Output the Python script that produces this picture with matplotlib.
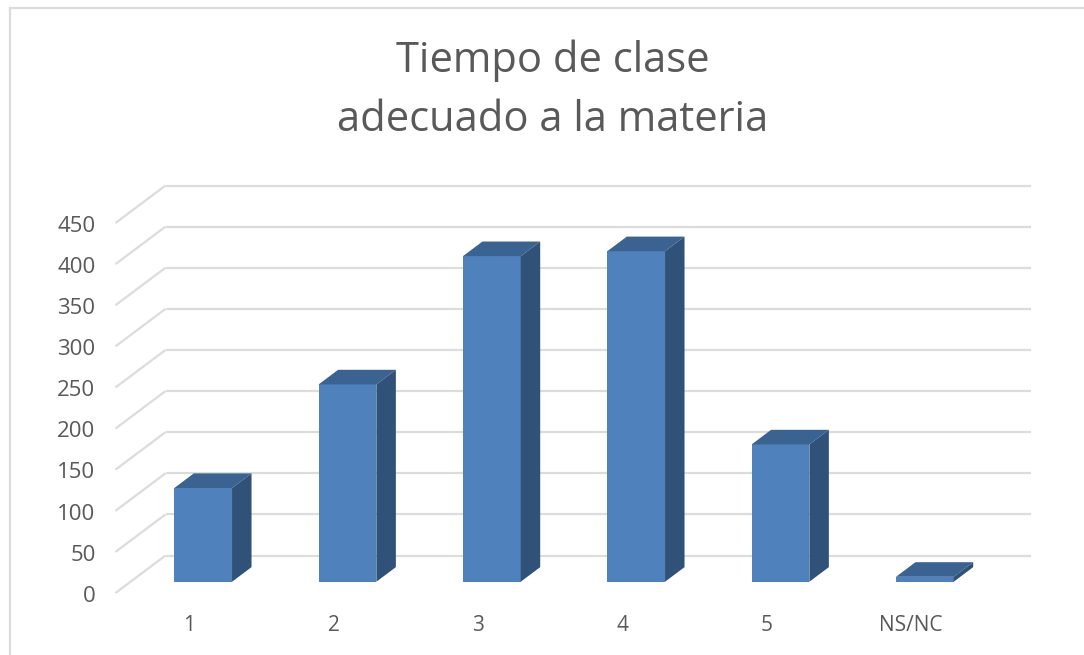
import matplotlib
matplotlib.use("Agg")
import matplotlib.pyplot as plt
from matplotlib.patches import Polygon

plt.rcParams["font.family"] = ["Open Sans", "DejaVu Sans"]

# Values
categories = ["1", "2", "3", "4", "5", "NS/NC"]
values = [114, 240, 396, 402, 167, 6]
y_ticks = [0, 50, 100, 150, 200, 250, 300, 350, 400, 450]
title = "Tiempo de clase\nadecuado a la materia"

W, H = 1084, 655
GRID = "#dcdcdc"
TEXT = "#595959"
FRONT = "#4f81bd"
TOP = "#3b6391"
SIDE = "#305279"

fig = plt.figure(figsize=(W / 100, H / 100), dpi=100)

# Axes covers the front plane of the fake 3D box
ax = fig.add_axes([115.5 / W, (H - 593) / H, 866 / W, 370 / H])
ax.set_xlim(-0.5, 5.5)
ax.set_ylim(0, 450)
ax.axis("off")

# Depth of the box in data units
depth_x = 50 / (866 / 6)
depth_y = 37.5 * 450 / 370
bar_width = 0.40
bar_depth = 0.39

# Walls: diagonal on the left, horizontal on the back
for t in y_ticks:
    ax.plot([-0.5, -0.5 + depth_x], [t, t + depth_y], color=GRID, lw=1.6,
            clip_on=False, solid_capstyle="butt", zorder=1)
    ax.plot([-0.5 + depth_x, 5.5 + depth_x], [t + depth_y, t + depth_y], color=GRID, lw=1.6,
            clip_on=False, solid_capstyle="butt", zorder=1)
    ax.text(-0.5 - 20 / (866 / 6), t - 4, str(t), ha="right", va="center",
            fontsize=16, color=TEXT)

# Bars: front face with the library, top and side as sheared polygons
for i, v in enumerate(values):
    left = i - bar_width / 2 + 0.31 * depth_x
    right = left + bar_width
    base = 0.30 * depth_y
    ddx = bar_depth * depth_x
    ddy = bar_depth * depth_y
    ax.bar(left, v, width=bar_width, bottom=base, align="edge", color=FRONT,
           clip_on=False, zorder=3)
    top = v + base
    ax.add_patch(Polygon([(left, top), (right, top), (right + ddx, top + ddy), (left + ddx, top + ddy)],
                         closed=True, color=TOP, lw=0, clip_on=False, zorder=3))
    ax.add_patch(Polygon([(right, base), (right + ddx, base + ddy), (right + ddx, top + ddy), (right, top)],
                         closed=True, color=SIDE, lw=0, clip_on=False, zorder=3))
    ax.text(i + 0.01, -40, categories[i], ha="center", va="center", fontsize=15, color=TEXT)

# Chart frame, only top and left show
fig.add_artist(plt.Line2D([9.5 / W, 9.5 / W], [0, (H - 8) / H], color=GRID, lw=1.6))
fig.add_artist(plt.Line2D([9.5 / W, 1], [(H - 8) / H, (H - 8) / H], color=GRID, lw=1.6))

fig.text(553 / W, (H - 90.5) / H, title, ha="center", va="center", fontsize=30,
         color=TEXT, linespacing=1.52)

fig.savefig("out.png", dpi=100)
